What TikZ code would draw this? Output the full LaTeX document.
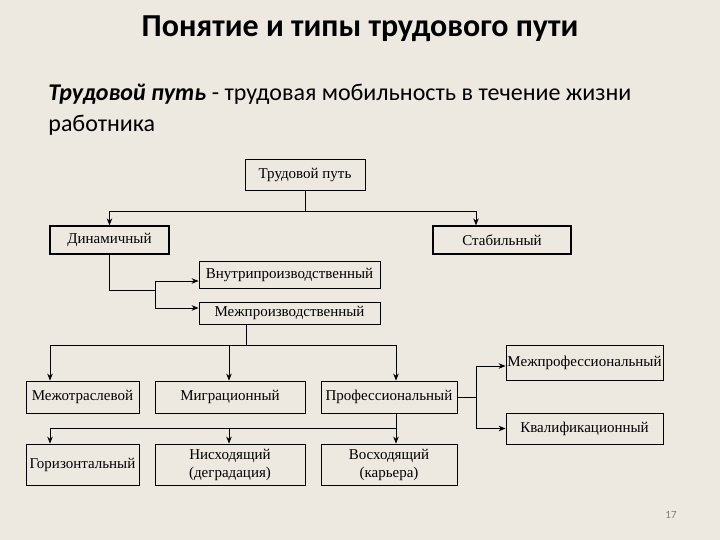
\documentclass[tikz,border=0pt]{standalone}
\usepackage{fontspec}
\setmainfont{Liberation Serif}
\newfontfamily\slidefont{Carlito}
\usetikzlibrary{arrows.meta,positioning}
\definecolor{paper}{RGB}{237,233,224}
\definecolor{pagenum}{RGB}{125,125,125}

\begin{document}
\begin{tikzpicture}[x=1pt, y=-1pt, line width=0.8pt,
  link/.style={-{Stealth[length=7pt,width=5.5pt]}},
  box/.style={draw, line width=0.8pt, inner sep=1pt, align=center, font=\fontsize{15}{18}\selectfont},
  thickbox/.style={box, line width=1.3pt}]
  \fill[paper] (0,0) rectangle (720,540);
  % heading
  \node (title) [anchor=base] at (360,37) {\slidefont\bfseries\fontsize{32}{36}\selectfont Понятие и типы трудового пути};
  \node (def1) [anchor=base west, inner sep=0pt] at (48,101) {\slidefont\fontsize{24}{28}\selectfont\textbf{\textit{Трудовой путь}} - трудовая мобильность в течение жизни};
  \node (def2) [anchor=base west, inner sep=0pt] at (48,132) {\slidefont\fontsize{24}{28}\selectfont работника};
  % boxes
  \node (path) [box, minimum width=120pt, minimum height=31pt] at (305,174.5) {Трудовой путь};
  \node (dyn) [thickbox, minimum width=119pt, minimum height=28pt] at (109.5,240) {Динамичный};
  \node (stab) [thickbox, minimum width=138pt, minimum height=28pt] at (502,240) {Стабильный};
  \node (intra) [box, minimum width=181pt, minimum height=27pt] at (289.5,274.5) {Внутрипроизводственный};
  \node (inter) [box, minimum width=181pt, minimum height=22pt] at (289.5,313) {Межпроизводственный};
  \node (sector) [box, minimum width=113pt, minimum height=32pt] at (82.5,397) {Межотраслевой};
  \node (migr) [box, minimum width=150pt, minimum height=32pt] at (230,397) {Миграционный};
  \node (prof) [box, minimum width=136pt, minimum height=32pt] at (389,397) {Профессиональный};
  \node (iprof) [box, minimum width=157pt, minimum height=35pt] at (584.5,362.5) {Межпрофессиональный};
  \node (qual) [box, minimum width=157pt, minimum height=31pt] at (584.5,428.5) {Квалификационный};
  \node (horiz) [box, minimum width=113pt, minimum height=41pt] at (82.5,464.5) {Горизонтальный};
  \node (down) [box, minimum width=150pt, minimum height=41pt] at (230,464.5) {Нисходящий\\(деградация)};
  \node (up) [box, minimum width=136pt, minimum height=41pt] at (389,464.5) {Восходящий\\(карьера)};
  \node (num) [text=pagenum, font=\slidefont\fontsize{11}{13}\selectfont] at (671,515) {17};
  % junctions
  \coordinate (pj) at (305,211);
  \coordinate (dj) at (155,290);
  \coordinate (ij) at (246,345);
  \coordinate (uj) at (396,428);
  \coordinate (rj) at (476,397);
  % connectors
  \draw (path.south) -- (pj);
  \draw[link] (pj) -| (dyn.north);
  \draw[link] (pj) -| ([xshift=-26pt]stab.north);
  \draw (dyn.south) |- (dj);
  \draw[link] (dj) |- ([yshift=-6.5pt]intra.west);
  \draw[link] (dj) |- ([yshift=5pt]inter.west);
  \draw ([xshift=-43.5pt]inter.south) -- (ij);
  \draw[link] (ij) -| ([xshift=-32.5pt]sector.north);
  \draw[link] (ij) -| ([xshift=-1pt]migr.north);
  \draw[link] (ij) -| ([xshift=7pt]prof.north);
  \draw (prof.east) -- (rj);
  \draw[link] (rj) |- ([yshift=-3.5pt]iprof.west);
  \draw[link] (rj) |- (qual.west);
  \draw ([xshift=7pt]prof.south) -- (uj);
  \draw[link] (uj) -- ([xshift=7pt]up.north);
  \draw[link] (uj) -| ([xshift=-32.5pt]horiz.north);
  \draw[link] (uj) -| ([xshift=-1pt]down.north);
\end{tikzpicture}
\end{document}
